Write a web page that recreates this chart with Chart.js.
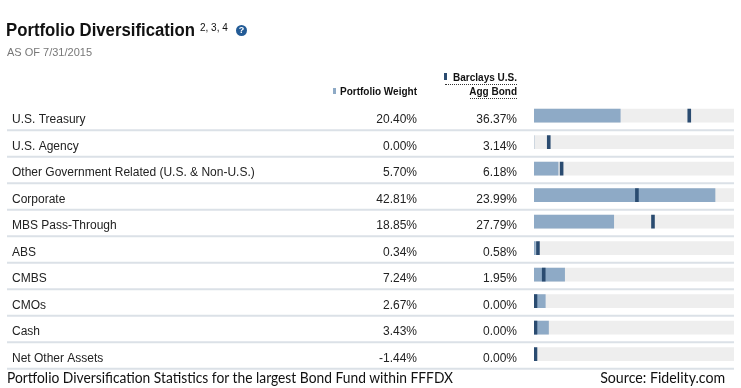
<!DOCTYPE html>
<html>
<head>
<meta charset="utf-8">
<script src="https://cdn.jsdelivr.net/npm/chart.js@4"></script>
<style>
body { margin: 0; width: 741px; height: 388px; position: relative; background: #fff; overflow: hidden;
       font-family: "Liberation Sans", Arial, sans-serif; color: #222; }
canvas { position: absolute; left: 0; top: 0; }
.abs { position: absolute; white-space: nowrap; line-height: 1; }
.title { left: 6px; top: 21px; font-size: 18px; font-weight: bold; color: #111; transform-origin: left top; }
.sup { left: 200px; top: 23px; font-size: 10px; color: #111; }
.help { left: 236px; top: 25px; width: 11px; height: 11px; border-radius: 50%; background: #235b96; color: #fff;
        font-size: 9px; font-weight: bold; text-align: center; line-height: 11px; }
.asof { left: 7px; top: 47px; font-size: 11px; color: #777; }
.hdr { font-size: 10px; font-weight: bold; color: #111; }
.mark { position: absolute; width: 3px; }
.dots { position: absolute; height: 0; border-top: 1px dotted #333; }
.caption { left: 7px; top: 370px; font-family: Lato, "Open Sans", sans-serif; font-size: 15px; color: #111; line-height: 1; transform-origin: left top; }
.source { top: 370px; font-family: Lato, "Open Sans", sans-serif; font-size: 15px; color: #111; line-height: 1; transform-origin: right top; }
</style>
</head>
<body>
<canvas id="divChart" width="741" height="388"></canvas>

<div class="abs title" id="title">Portfolio Diversification</div>
<div class="abs sup">2, 3, 4</div>
<div class="abs help">?</div>
<div class="abs asof">AS OF 7/31/2015</div>

<div class="mark" style="left:333px;top:88px;height:6px;background:#8eaac6"></div>
<div class="abs hdr" style="right:324px;top:87px">Portfolio Weight</div>
<div class="mark" style="left:444px;top:73px;height:7px;background:#2a4b70"></div>
<div class="abs hdr" style="right:224px;top:72.5px">Barclays U.S.</div>
<div class="dots" style="left:445px;width:72px;top:84px"></div>
<div class="abs hdr" style="right:224px;top:87px">Agg Bond</div>
<div class="dots" style="left:470px;width:47px;top:98px"></div>

<div class="abs caption" id="caption">Portfolio Diversification Statistics for the largest Bond Fund within FFFDX</div>
<div class="abs source" id="source" style="right:16px">Source: Fidelity.com</div>

<script>
// Sector rows
const categories = [
    "U.S. Treasury",
    "U.S. Agency",
    "Other Government Related (U.S. & Non-U.S.)",
    "Corporate",
    "MBS Pass-Through",
    "ABS",
    "CMBS",
    "CMOs",
    "Cash",
    "Net Other Assets"
];
// Portfolio weight (%)
const portfolioWeight = [20.40, 0.00, 5.70, 42.81, 18.85, 0.34, 7.24, 2.67, 3.43, -1.44];
// Barclays U.S. Agg Bond weight (%)
const benchmarkWeight = [36.37, 3.14, 6.18, 23.99, 27.79, 0.58, 1.95, 0.00, 0.00, 0.00];

const xMax = 47.3;      // full width of the grey track
const markerWidth = 0.7; // benchmark tick width in % units

function fmt(v) {
    return v.toFixed(2) + "%";
}

// Fit text to the width it has in the original
function fitWidth(id, w) {
    const el = document.getElementById(id);
    const actual = el.getBoundingClientRect().width;
    el.style.transform = "scaleX(" + (w / actual) + ")";
}
fitWidth("title", 189);
fitWidth("caption", 446);
fitWidth("source", 125);

// Labels, values and separators, placed on the chart's own y scale
const rowText = {
    id: "rowText",
    afterDraw(chart) {
        const ctx = chart.ctx;
        const area = chart.chartArea;
        const y = chart.scales.y;
        ctx.save();
        categories.forEach((name, i) => {
            const cy = y.getPixelForValue(i);
            ctx.strokeStyle = "#dbe1e7";
            ctx.lineWidth = 2;
            ctx.beginPath();
            ctx.moveTo(7, cy + 14.7);
            ctx.lineTo(area.right, cy + 14.7);
            ctx.stroke();

            ctx.fillStyle = "#222";
            ctx.font = '12px "Liberation Sans", Arial, sans-serif';
            ctx.textBaseline = "alphabetic";
            ctx.textAlign = "left";
            ctx.fillText(name, 12, cy + 7.7);
            ctx.textAlign = "right";
            ctx.fillText(fmt(portfolioWeight[i]), 417, cy + 7.7);
            ctx.fillText(fmt(benchmarkWeight[i]), 517, cy + 7.7);
        });
        ctx.restore();
    }
};

const ctx = document.getElementById("divChart").getContext("2d");
const divChart = new Chart(ctx, {
    type: "bar",
    data: {
        labels: categories,
        datasets: [
            {
                label: "Track",
                data: categories.map(() => xMax),
                backgroundColor: "#eeeeee",
                order: 3
            },
            {
                label: "Portfolio Weight",
                data: portfolioWeight,
                backgroundColor: "#8eaac6",
                order: 2
            },
            {
                label: "Barclays U.S. Agg Bond",
                data: benchmarkWeight.map(v => [v, v + markerWidth]),
                backgroundColor: "#2a4b70",
                order: 1
            }
        ]
    },
    options: {
        indexAxis: "y",
        responsive: false,
        animation: false,
        devicePixelRatio: 1,
        datasets: {
            bar: { grouped: false, barThickness: 13, borderWidth: 0 }
        },
        layout: {
            padding: { left: 534, right: 7, top: 102.35, bottom: 20.65 }
        },
        scales: {
            x: { display: false, min: 0, max: xMax },
            y: { display: false, offset: true }
        },
        plugins: {
            legend: { display: false },
            tooltip: { enabled: false }
        }
    },
    plugins: [rowText]
});
</script>
</body>
</html>
